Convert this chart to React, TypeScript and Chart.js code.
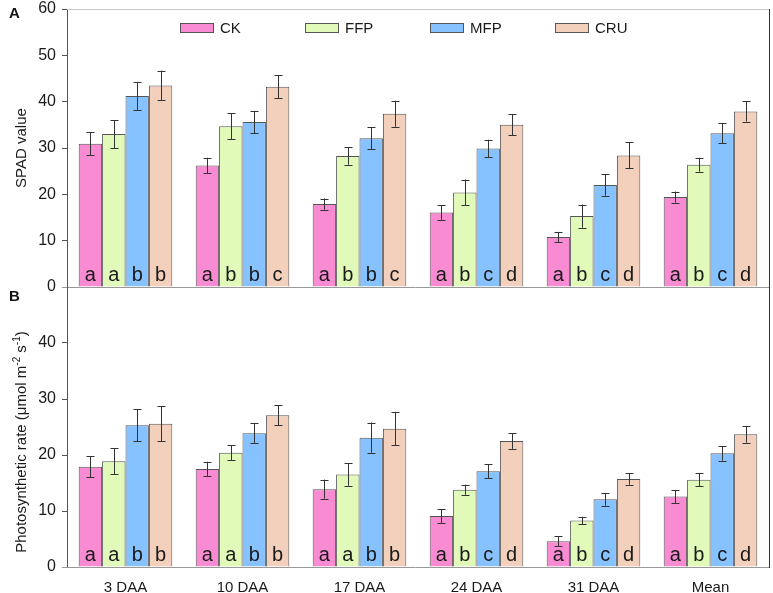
import React, { useEffect, useRef } from 'react';
import { Chart, registerables } from 'chart.js';
Chart.register(...registerables);

const categories = ['3 DAA', '10 DAA', '17 DAA', '24 DAA', '31 DAA', 'Mean'];
const seriesNames = ['CK', 'FFP', 'MFP', 'CRU'];
const seriesColors = ['#F98BD3', '#E2FAB9', '#86C2FF', '#F3D0BB'];

// Panel A: SPAD value
const spadCK = [30.9, 26.2, 17.9, 16.1, 10.8, 19.4];
const spadFFP = [33.0, 34.7, 28.3, 20.4, 15.3, 26.4];
const spadMFP = [41.2, 35.6, 32.1, 29.9, 22.0, 33.2];
const spadCRU = [43.5, 43.2, 37.4, 35.0, 28.4, 37.9];
const spadErrCK = [2.5, 1.7, 1.2, 1.6, 1.1, 1.2];
const spadErrFFP = [3.0, 2.8, 1.9, 2.8, 2.5, 1.5];
const spadErrMFP = [3.0, 2.4, 2.4, 1.9, 2.3, 2.2];
const spadErrCRU = [3.2, 2.5, 2.8, 2.3, 2.8, 2.2];
const spadLetCK = ['a', 'a', 'a', 'a', 'a', 'a'];
const spadLetFFP = ['a', 'b', 'b', 'b', 'b', 'b'];
const spadLetMFP = ['b', 'b', 'b', 'c', 'c', 'c'];
const spadLetCRU = ['b', 'c', 'c', 'd', 'd', 'd'];
const spadTicks = [0, 10, 20, 30, 40, 50, 60];

// Panel B: Photosynthetic rate
const pnCK = [17.9, 17.5, 13.9, 9.1, 4.6, 12.6];
const pnFFP = [18.9, 20.4, 16.5, 13.8, 8.3, 15.6];
const pnMFP = [25.3, 23.9, 23.1, 17.1, 12.1, 20.3];
const pnCRU = [25.6, 27.1, 24.7, 22.5, 15.7, 23.7];
const pnErrCK = [1.9, 1.3, 1.7, 1.25, 0.85, 1.15];
const pnErrFFP = [2.3, 1.3, 2.0, 0.9, 0.65, 1.2];
const pnErrMFP = [2.85, 1.75, 2.7, 1.25, 1.15, 1.3];
const pnErrCRU = [3.1, 1.75, 3.0, 1.4, 1.0, 1.5];
const pnLetCK = ['a', 'a', 'a', 'a', 'a', 'a'];
const pnLetFFP = ['a', 'a', 'a', 'b', 'b', 'b'];
const pnLetMFP = ['b', 'b', 'b', 'c', 'c', 'c'];
const pnLetCRU = ['b', 'b', 'b', 'd', 'd', 'd'];
const pnTicks = [0, 10, 20, 30, 40];

const FONT = "'Liberation Sans', Arial, sans-serif";

type Seg = { t: string; sup?: boolean };

function makeChart(
  canvas: HTMLCanvasElement,
  panel: 'A' | 'B',
  values: number[][],
  errs: number[][],
  letters: string[][],
  yMax: number,
  ticks: number[],
  title: Seg[],
  titleCenterY: number,
  showX: boolean,
  padTop: number,
  padBottom: number
) {
  const overlay = {
    id: 'overlay' + panel,
    afterDatasetsDraw(chart: any) {
      const ctx = chart.ctx as CanvasRenderingContext2D;
      const ca = chart.chartArea;
      const ys = chart.scales.y;
      ctx.save();
      chart.data.datasets.forEach((ds: any, di: number) => {
        const meta = chart.getDatasetMeta(di);
        meta.data.forEach((bar: any, i: number) => {
          const v = values[di][i];
          const e = errs[di][i];
          const yT = ys.getPixelForValue(v + e);
          const yB = ys.getPixelForValue(v - e);
          const x = Math.round(bar.x) + 0.5;
          ctx.strokeStyle = '#333';
          ctx.lineWidth = 1;
          ctx.beginPath();
          ctx.moveTo(x, yT);
          ctx.lineTo(x, yB);
          ctx.moveTo(x - 4, Math.round(yT) + 0.5);
          ctx.lineTo(x + 4, Math.round(yT) + 0.5);
          ctx.moveTo(x - 4, Math.round(yB) + 0.5);
          ctx.lineTo(x + 4, Math.round(yB) + 0.5);
          ctx.stroke();
          ctx.fillStyle = '#1a1a1a';
          ctx.font = `20px ${FONT}`;
          ctx.textAlign = 'center';
          ctx.textBaseline = 'alphabetic';
          ctx.fillText(letters[di][i], bar.x, ca.bottom - 6);
        });
      });
      ctx.lineWidth = 1;
      ctx.strokeStyle = '#999';
      ctx.beginPath();
      ctx.moveTo(ca.left - 5, Math.round(ca.bottom) + 0.5);
      ctx.lineTo(ca.right, Math.round(ca.bottom) + 0.5);
      ctx.stroke();
      if (panel === 'A') {
        ctx.strokeStyle = '#c8c8c8';
        ctx.beginPath();
        ctx.moveTo(ca.left, Math.round(ca.top) + 0.5);
        ctx.lineTo(ca.right, Math.round(ca.top) + 0.5);
        ctx.stroke();
      }
      ctx.strokeStyle = '#333';
      ctx.beginPath();
      ctx.moveTo(Math.round(ca.right) + 0.5, panel === 'A' ? ca.top : 0);
      ctx.lineTo(Math.round(ca.right) + 0.5, ca.bottom + 1);
      ctx.stroke();
      ctx.fillStyle = '#111';
      ctx.font = `bold 15px ${FONT}`;
      ctx.textAlign = 'left';
      ctx.textBaseline = 'middle';
      ctx.fillText(panel, 9, panel === 'A' ? 14 : 16.5);
      ctx.save();
      ctx.translate(22, titleCenterY);
      ctx.rotate(-Math.PI / 2);
      const norm = `15px ${FONT}`;
      const small = `10px ${FONT}`;
      let total = 0;
      title.forEach((s) => {
        ctx.font = s.sup ? small : norm;
        total += ctx.measureText(s.t).width;
      });
      let cx = -total / 2;
      ctx.fillStyle = '#1a1a1a';
      ctx.textAlign = 'left';
      ctx.textBaseline = 'middle';
      title.forEach((s) => {
        ctx.font = s.sup ? small : norm;
        ctx.fillText(s.t, cx, s.sup ? -5 : 0);
        cx += ctx.measureText(s.t).width;
      });
      ctx.restore();
      if (panel === 'A') {
        seriesNames.forEach((n, i) => {
          const bx = 180 + i * 125;
          ctx.fillStyle = seriesColors[i];
          ctx.fillRect(bx, 23.5, 33, 9);
          ctx.strokeStyle = '#555';
          ctx.strokeRect(bx + 0.5, 23.5, 33, 9);
          ctx.fillStyle = '#1a1a1a';
          ctx.font = `15px ${FONT}`;
          ctx.textAlign = 'left';
          ctx.textBaseline = 'middle';
          ctx.fillText(n, bx + 40, 28.5);
        });
      }
      ctx.restore();
    },
  };

  return new Chart(canvas, {
    type: 'bar',
    data: {
      labels: categories,
      datasets: seriesNames.map((n, i) => ({
        label: n,
        data: values[i],
        backgroundColor: seriesColors[i],
        borderColor: '#555',
        borderWidth: 1,
        categoryPercentage: 0.8,
        barPercentage: 1.0,
      })),
    },
    options: {
      animation: false,
      responsive: false,
      devicePixelRatio: 1,
      layout: { padding: { top: padTop, right: 4, bottom: padBottom, left: 0 } },
      plugins: { legend: { display: false }, tooltip: { enabled: false } },
      scales: {
        x: {
          display: showX,
          grid: { display: false },
          border: { display: false },
          ticks: { color: '#1a1a1a', font: { family: FONT, size: 15 }, padding: 4 },
          afterFit: (s: any) => {
            s.height = showX ? 26 : 0;
            s.paddingLeft = 0;
            s.paddingRight = 0;
          },
        },
        y: {
          min: 0,
          max: yMax,
          afterFit: (s: any) => {
            s.width = 67;
            s.paddingTop = 0;
            s.paddingBottom = 0;
          },
          afterBuildTicks: (s: any) => {
            s.ticks = ticks.map((v) => ({ value: v }));
          },
          grid: { drawOnChartArea: false, drawTicks: true, tickLength: 5, color: '#555' },
          border: { display: true, color: '#555', width: 1 },
          ticks: { color: '#1a1a1a', font: { family: FONT, size: 16 }, padding: 6 },
        },
      },
    },
    plugins: [overlay],
  } as any);
}

export default function App() {
  const refA = useRef<HTMLCanvasElement>(null);
  const refB = useRef<HTMLCanvasElement>(null);
  useEffect(() => {
    const a = makeChart(
      refA.current!,
      'A',
      [spadCK, spadFFP, spadMFP, spadCRU],
      [spadErrCK, spadErrFFP, spadErrMFP, spadErrCRU],
      [spadLetCK, spadLetFFP, spadLetMFP, spadLetCRU],
      60,
      spadTicks,
      [{ t: 'SPAD value' }],
      148,
      false,
      9,
      13
    );
    const b = makeChart(
      refB.current!,
      'B',
      [pnCK, pnFFP, pnMFP, pnCRU],
      [pnErrCK, pnErrFFP, pnErrMFP, pnErrCRU],
      [pnLetCK, pnLetFFP, pnLetMFP, pnLetCRU],
      50,
      pnTicks,
      [{ t: 'Photosynthetic rate (\u03bcmol m' }, { t: '-2', sup: true }, { t: ' s' }, { t: '-1', sup: true }, { t: ')' }],
      162,
      true,
      7,
      0
    );
    return () => {
      a.destroy();
      b.destroy();
    };
  }, []);
  return (
    <div style={{ position: 'fixed', left: 0, top: 0, width: 773, height: 593, background: '#fff' }}>
      <canvas ref={refA} width={773} height={300} style={{ position: 'absolute', left: 0, top: 0 }} />
      <canvas ref={refB} width={773} height={313} style={{ position: 'absolute', left: 0, top: 280 }} />
    </div>
  );
}
